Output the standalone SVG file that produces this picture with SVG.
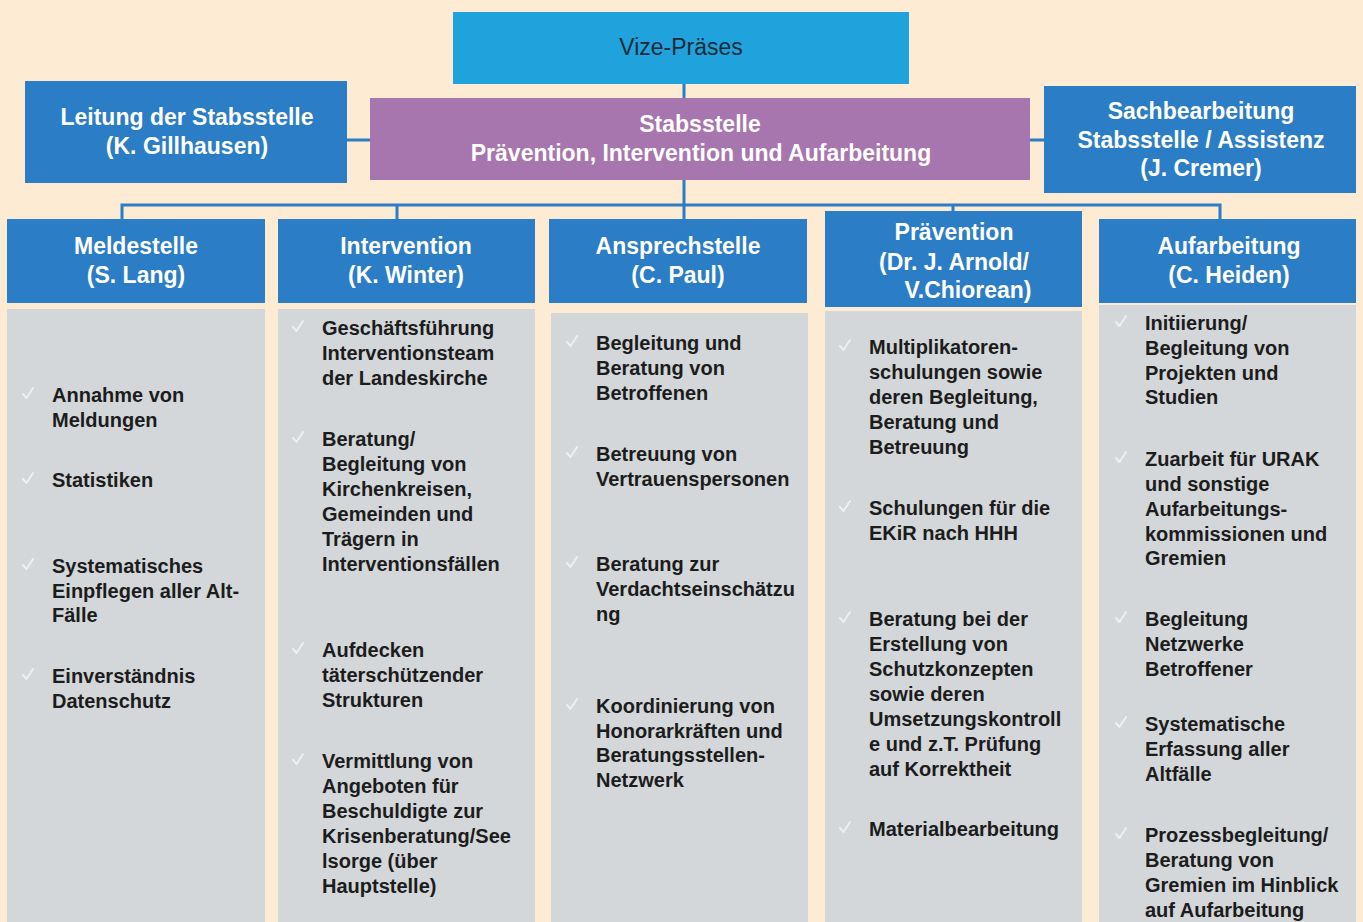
<svg xmlns="http://www.w3.org/2000/svg" width="1363" height="922" viewBox="0 0 1363 922">
<defs>
<style>
.hdr{fill:#2B7DC5}
.panel{fill:#D3D7D9}
.ht{font-family:"Liberation Sans",Arial,sans-serif;font-weight:bold;font-size:23px;fill:#FFFFFF;text-anchor:middle}
.bt{font-family:"Liberation Sans",Arial,sans-serif;font-weight:bold;font-size:20px;fill:#1C1C1C}
.ck{fill:none;stroke:#F4F6F7;stroke-width:2;stroke-linecap:round;stroke-linejoin:round;opacity:0.8}
.cn{fill:none;stroke:#2B7DC5;stroke-width:3}
</style>
<path id="chk" d="M0,0 l3.5,4 l6.5,-10"/>
</defs>
<rect width="1363" height="922" fill="#FDEBD3"/>
<g id="connectors">
<line class="cn" x1="684" y1="84" x2="684" y2="98"/>
<line class="cn" x1="347" y1="140" x2="370" y2="140"/>
<line class="cn" x1="1030" y1="140" x2="1044" y2="140"/>
<line class="cn" x1="684" y1="180" x2="684" y2="219"/>
<polyline class="cn" points="122,219 122,205 1220,205 1220,219"/>
<line class="cn" x1="397" y1="205" x2="397" y2="219"/>
<line class="cn" x1="953" y1="205" x2="953" y2="211"/>
</g>
<g id="vize">
<rect x="453" y="12" width="456" height="72" fill="#20A2DD"/>
<text x="681" y="55" font-family="Liberation Sans,Arial,sans-serif" font-size="23" fill="#1B2A38" text-anchor="middle">Vize-Präses</text>
</g>
<g id="leitung">
<rect x="25" y="81" width="322" height="102" class="hdr"/>
<text class="ht" x="187" y="125">Leitung der Stabsstelle</text>
<text class="ht" x="187" y="154">(K. Gillhausen)</text>
</g>
<g id="stabsstelle">
<rect x="370" y="98" width="660" height="82" fill="#A776AE"/>
<text class="ht" x="700" y="132">Stabsstelle</text>
<text class="ht" x="701" y="161">Prävention, Intervention und Aufarbeitung</text>
</g>
<g id="sachbearbeitung">
<rect x="1044" y="86" width="312" height="107" class="hdr"/>
<text class="ht" x="1201" y="119">Sachbearbeitung</text>
<text class="ht" x="1201" y="148">Stabsstelle / Assistenz</text>
<text class="ht" x="1201" y="176">(J. Cremer)</text>
</g>
<g id="meldestelle">
<rect x="7" y="219" width="258" height="84" class="hdr"/>
<text class="ht" x="136" y="254">Meldestelle</text>
<text class="ht" x="136" y="283">(S. Lang)</text>
<rect x="7" y="309" width="258" height="613" class="panel"/>
<use href="#chk" class="ck" x="23" y="394"/>
<use href="#chk" class="ck" x="23" y="479"/>
<use href="#chk" class="ck" x="23" y="565"/>
<use href="#chk" class="ck" x="23" y="675"/>
<text class="bt"><tspan x="52" y="402">Annahme von</tspan><tspan x="52" y="427">Meldungen</tspan><tspan x="52" y="487">Statistiken</tspan><tspan x="52" y="573">Systematisches</tspan><tspan x="52" y="598">Einpflegen aller Alt-</tspan><tspan x="52" y="622">Fälle</tspan><tspan x="52" y="683">Einverständnis</tspan><tspan x="52" y="708">Datenschutz</tspan></text>
</g>
<g id="intervention">
<rect x="278" y="219" width="257" height="84" class="hdr"/>
<text class="ht" x="406" y="254">Intervention</text>
<text class="ht" x="406" y="283">(K. Winter)</text>
<rect x="278" y="309" width="257" height="613" class="panel"/>
<use href="#chk" class="ck" x="293" y="327"/>
<use href="#chk" class="ck" x="293" y="438"/>
<use href="#chk" class="ck" x="293" y="649"/>
<use href="#chk" class="ck" x="293" y="760"/>
<text class="bt"><tspan x="322" y="335">Geschäftsführung</tspan><tspan x="322" y="360">Interventionsteam</tspan><tspan x="322" y="385">der Landeskirche</tspan><tspan x="322" y="446">Beratung/</tspan><tspan x="322" y="471">Begleitung von</tspan><tspan x="322" y="496">Kirchenkreisen,</tspan><tspan x="322" y="521">Gemeinden und</tspan><tspan x="322" y="546">Trägern in</tspan><tspan x="322" y="571">Interventionsfällen</tspan><tspan x="322" y="657">Aufdecken</tspan><tspan x="322" y="682">täterschützender</tspan><tspan x="322" y="707">Strukturen</tspan><tspan x="322" y="768">Vermittlung von</tspan><tspan x="322" y="793">Angeboten für</tspan><tspan x="322" y="818">Beschuldigte zur</tspan><tspan x="322" y="843">Krisenberatung/See</tspan><tspan x="322" y="868">lsorge (über</tspan><tspan x="322" y="893">Hauptstelle)</tspan></text>
</g>
<g id="ansprechstelle">
<rect x="549" y="219" width="258" height="84" class="hdr"/>
<text class="ht" x="678" y="254">Ansprechstelle</text>
<text class="ht" x="678" y="283">(C. Paul)</text>
<rect x="551" y="313" width="257" height="609" class="panel"/>
<use href="#chk" class="ck" x="567" y="342"/>
<use href="#chk" class="ck" x="567" y="453"/>
<use href="#chk" class="ck" x="567" y="563"/>
<use href="#chk" class="ck" x="567" y="705"/>
<text class="bt"><tspan x="596" y="350">Begleitung und</tspan><tspan x="596" y="375">Beratung von</tspan><tspan x="596" y="400">Betroffenen</tspan><tspan x="596" y="461">Betreuung von</tspan><tspan x="596" y="486">Vertrauenspersonen</tspan><tspan x="596" y="571">Beratung zur</tspan><tspan x="596" y="596">Verdachtseinschätzu</tspan><tspan x="596" y="621">ng</tspan><tspan x="596" y="713">Koordinierung von</tspan><tspan x="596" y="738">Honorarkräften und</tspan><tspan x="596" y="762">Beratungsstellen-</tspan><tspan x="596" y="787">Netzwerk</tspan></text>
</g>
<g id="praevention">
<rect x="825" y="211" width="257" height="96" class="hdr"/>
<text class="ht" x="954" y="240">Prävention</text>
<text class="ht" x="954" y="270">(Dr. J. Arnold/</text>
<text class="ht" x="968" y="298">V.Chiorean)</text>
<rect x="825" y="311" width="257" height="611" class="panel"/>
<use href="#chk" class="ck" x="840" y="346"/>
<use href="#chk" class="ck" x="840" y="507"/>
<use href="#chk" class="ck" x="840" y="618"/>
<use href="#chk" class="ck" x="840" y="828"/>
<text class="bt"><tspan x="869" y="354">Multiplikatoren-</tspan><tspan x="869" y="379">schulungen sowie</tspan><tspan x="869" y="404">deren Begleitung,</tspan><tspan x="869" y="429">Beratung und</tspan><tspan x="869" y="454">Betreuung</tspan><tspan x="869" y="515">Schulungen für die</tspan><tspan x="869" y="540">EKiR nach HHH</tspan><tspan x="869" y="626">Beratung bei der</tspan><tspan x="869" y="651">Erstellung von</tspan><tspan x="869" y="676">Schutzkonzepten</tspan><tspan x="869" y="701">sowie deren</tspan><tspan x="869" y="726">Umsetzungskontroll</tspan><tspan x="869" y="751">e und z.T. Prüfung</tspan><tspan x="869" y="776">auf Korrektheit</tspan><tspan x="869" y="836">Materialbearbeitung</tspan></text>
</g>
<g id="aufarbeitung">
<rect x="1099" y="219" width="257" height="84" class="hdr"/>
<text class="ht" x="1229" y="254">Aufarbeitung</text>
<text class="ht" x="1229" y="283">(C. Heiden)</text>
<rect x="1099" y="305" width="257" height="617" class="panel"/>
<use href="#chk" class="ck" x="1116" y="322"/>
<use href="#chk" class="ck" x="1116" y="458"/>
<use href="#chk" class="ck" x="1116" y="618"/>
<use href="#chk" class="ck" x="1116" y="723"/>
<use href="#chk" class="ck" x="1116" y="834"/>
<text class="bt"><tspan x="1145" y="330">Initiierung/</tspan><tspan x="1145" y="355">Begleitung von</tspan><tspan x="1145" y="380">Projekten und</tspan><tspan x="1145" y="404">Studien</tspan><tspan x="1145" y="466">Zuarbeit für URAK</tspan><tspan x="1145" y="491">und sonstige</tspan><tspan x="1145" y="516">Aufarbeitungs-</tspan><tspan x="1145" y="541">kommissionen und</tspan><tspan x="1145" y="565">Gremien</tspan><tspan x="1145" y="626">Begleitung</tspan><tspan x="1145" y="651">Netzwerke</tspan><tspan x="1145" y="676">Betroffener</tspan><tspan x="1145" y="731">Systematische</tspan><tspan x="1145" y="756">Erfassung aller</tspan><tspan x="1145" y="781">Altfälle</tspan><tspan x="1145" y="842">Prozessbegleitung/</tspan><tspan x="1145" y="867">Beratung von</tspan><tspan x="1145" y="892">Gremien im Hinblick</tspan><tspan x="1145" y="917">auf Aufarbeitung</tspan></text>
</g>
</svg>
